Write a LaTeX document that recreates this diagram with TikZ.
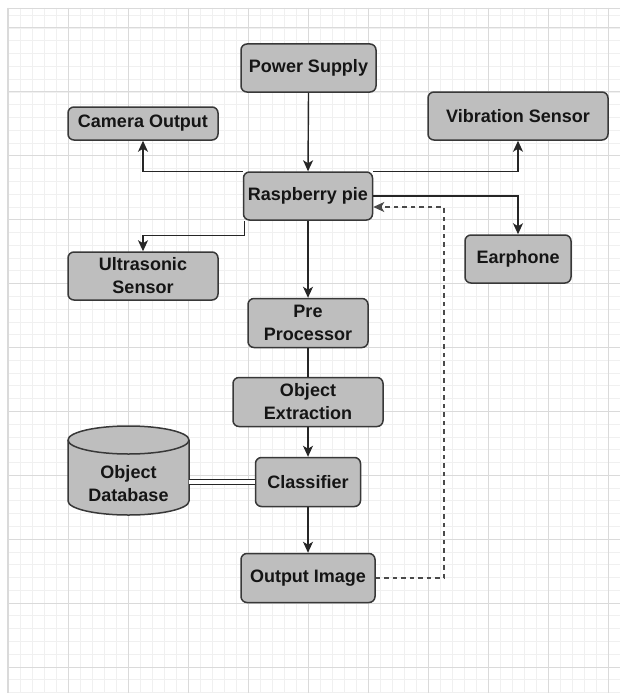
\documentclass[tikz,border=0pt]{standalone}
\usepackage{fontspec}
\setmainfont{Liberation Sans}
\usetikzlibrary{arrows.meta,calc}
\definecolor{boxfill}{HTML}{BEBEBE}
\definecolor{boxline}{HTML}{383838}
\definecolor{minorg}{HTML}{F0F0F0}
\definecolor{majorg}{HTML}{DADADA}
\definecolor{txt}{HTML}{151515}
\definecolor{dashc}{HTML}{4A4A4A}
\tikzset{
  x=1pt, y=-1pt,
  blk/.style={draw=boxline, fill=boxfill, line width=1.5pt, rounded corners=6pt,
    inner sep=0pt, align=center, text=txt,
    font=\fontsize{18}{23}\selectfont\bfseries},
  conn/.style={draw=black!85, line width=1.4pt},
  arr/.style={conn, -{Stealth[length=11pt,width=10pt,inset=3pt]}},
  dasharr/.style={draw=dashc, line width=1.6pt, dash pattern=on 4.5pt off 4pt,
    -{Stealth[length=11pt,width=10pt,inset=3pt]}},
  minorline/.style={draw=minorg, line width=0.8pt},
  majorline/.style={draw=majorg, line width=1pt},
}
\begin{document}
\begin{tikzpicture}
\useasboundingbox (0,0) rectangle (620,693);
\fill[white] (0,0) rectangle (620,693);
% grid
\begin{scope}
\clip (7,8) rectangle (620,693);
\foreach \i in {0,...,52} { \draw[minorline] ({8+12*\i},8) -- ({8+12*\i},693); }
\foreach \j in {-2,...,54} { \draw[minorline] (7,{28+12.78*\j}) -- (620,{28+12.78*\j}); }
\foreach \i in {0,...,10} { \draw[majorline] ({8+60*\i},8) -- ({8+60*\i},693); }
\foreach \j in {0,...,10} { \draw[majorline] (7,{28+63.9*\j}) -- (620,{28+63.9*\j}); }
\draw[majorline] (7,8.5) -- (620,8.5);
\draw[majorline] (7.5,8) -- (7.5,693);
\end{scope}
% nodes
\node[blk, minimum width=135, minimum height=48] (pwr) at (308.5,68) {Power Supply};
\node[blk, minimum width=150, minimum height=33] (cam) at (143,123.5) {Camera Output};
\node[blk, minimum width=180, minimum height=48] (vib) at (518,116) {Vibration Sensor};
\node[blk, minimum width=129, minimum height=48] (rpi) at (308,196) {Raspberry pie};
\node[blk, minimum width=150, minimum height=48] (ult) at (143,276) {Ultrasonic\\Sensor};
\node[blk, minimum width=106, minimum height=48] (ear) at (518,259) {Earphone};
\node[blk, minimum width=120, minimum height=49] (pre) at (308,323) {Pre\\Processor};
\node[blk, minimum width=150, minimum height=49] (ext) at (308,402) {Object\\Extraction};
\node[blk, minimum width=105, minimum height=49] (cls) at (308,482) {Classifier};
\node[blk, minimum width=134, minimum height=49] (out) at (308,578) {Output Image};
% cylinder database
\node[minimum width=121, minimum height=89, inner sep=0pt] (db) at (128.5,470.5) {};
\filldraw[draw=boxline, fill=boxfill, line width=1.5pt]
  (68,440) -- (68,501) arc[start angle=180, end angle=360, x radius=60.5pt, y radius=14pt]
  -- (189,440) arc[start angle=0, end angle=180, x radius=60.5pt, y radius=14pt] -- cycle;
\draw[draw=boxline, line width=1.5pt]
  (68,440) arc[start angle=180, end angle=360, x radius=60.5pt, y radius=14pt];
\node[align=center, text=txt, font=\fontsize{18}{23}\selectfont\bfseries, inner sep=0pt]
  (dbtxt) at (128.5,484) {Object\\Database};
% connectors
\draw[arr] (pwr.south) -- (rpi.north);
\draw[arr] (rpi.north west) -| (cam.south);
\draw[arr] (rpi.north east) -| (vib.south);
\draw[arr] (rpi.east) -| (ear.north);
\draw[arr] ([xshift=2pt]rpi.south west) -- ++(0,15) -| (ult.north);
\draw[arr] (rpi.south) -- (pre.north);
\draw[conn] (pre.south) -- (ext.north);
\draw[arr] (ext.south) -- (cls.north);
\draw[arr] (cls.south) -- (out.north);
\draw[draw=black!85, line width=1.3pt, double=white, double distance=3.5pt] (cls.west) -- (cls.west -| db.east);
\draw[dasharr] (out.east) -- ++(68,0) |- ($(rpi.east)+(0,11)$);
\end{tikzpicture}
\end{document}
